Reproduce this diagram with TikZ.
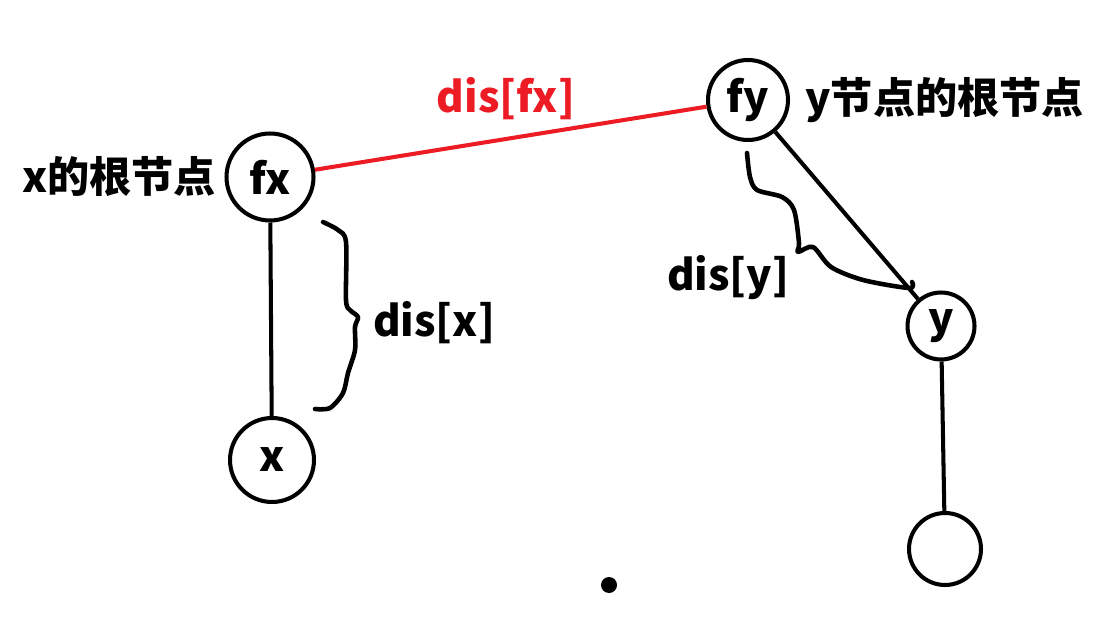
\documentclass[tikz,border=0pt]{standalone}
\usepackage{fontspec}
\setmainfont{Noto Sans CJK SC}
\usetikzlibrary{positioning}
\definecolor{paintred}{RGB}{237,28,36}

\begin{document}
\begin{tikzpicture}[
    x=0.02cm, y=-0.02cm,
    every node/.style={font=\fontsize{24}{28}\selectfont\bfseries},
    tree_node/.style={
            circle,
            draw,
            line width=2.3pt,
            inner sep=0pt
        },
    edge/.style={line width=2.3pt},
    brace_line/.style={line width=2.6pt, line join=round, line cap=round},
    label_text/.style={inner sep=0pt},
    ]
    \useasboundingbox (0,0) rectangle (1104,644);

    % --- Nodes ---
    \node (fx) [tree_node, minimum size=1.74cm] at (270,177) {fx};
    \node (x) [tree_node, minimum size=1.68cm] at (272,460) {x};
    \node (fy) [tree_node, minimum size=1.6cm] at (748,100) {fy};
    \node (y) [tree_node, minimum size=1.34cm] at (941,326) {y};
    \node (leaf) [tree_node, minimum size=1.44cm] at (945,549) {};

    % --- Labels ---
    \node (fx_root) [label_text, left=0.16cm of fx] {x的根节点};
    \node (fy_root) [label_text, right=0.3cm of fy] {y节点的根节点};
    \node (dis_fx) [label_text, text=paintred] at (506,99) {dis[fx]};
    \node (dis_x) [label_text] at (434,323) {dis[x]};
    \node (dis_y) [label_text] at (728,278) {dis[y]};

    % --- Edges ---
    \draw[edge] (fx) -- (x);
    \draw[edge, paintred] (fx) -- (fy);
    \draw[edge] (fy) -- (y);
    \draw[edge] (y) -- (leaf);

    % --- Braces ---
    \draw[brace_line] plot[smooth, tension=0.5] coordinates {
        (323,222) (338,230) (346,242) (346,300) (350,310) (358,317)
        (355,327) (355,350) (348,373) (343,393) (330,408) (315,409)};
    \draw[brace_line] plot[smooth, tension=0.5] coordinates {
        (747,153) (750,177) (757,190) (782,197) (794,210) (799,243)
        (798,252) (813,247) (831,267) (863,280) (909,288) (912,282)};

    % --- Dot ---
    \fill (609,585) circle (8);

\end{tikzpicture}
\end{document}
